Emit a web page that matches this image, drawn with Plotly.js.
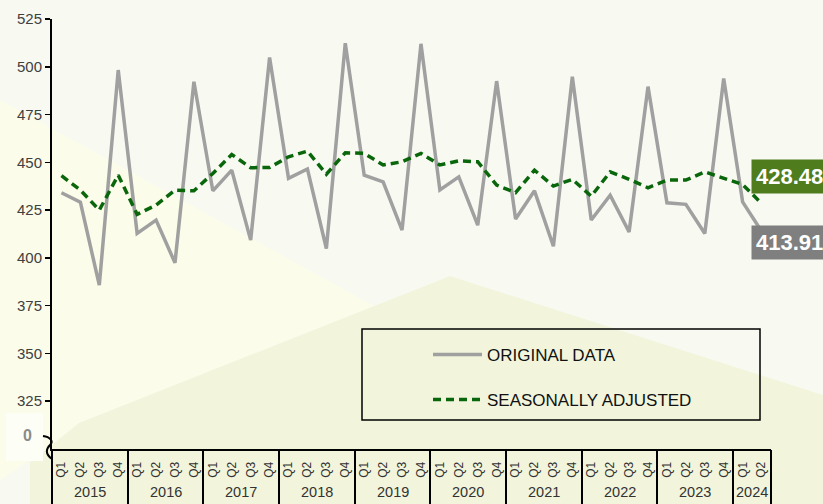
<!DOCTYPE html>
<html><head><meta charset="utf-8">
<script src="https://cdn.plot.ly/plotly-3.0.1.min.js"></script>
<style>html,body{margin:0;padding:0;background:#f8faf2}#chart{width:823px;height:504px}</style>
</head><body><div id="chart"></div>
<script>
// ---- data ----
const yearLabels = ['2015','2016','2017','2018','2019','2020','2021','2022','2023','2024'];
const quartersPerYear = [4,4,4,4,4,4,4,4,4,2];
const quarterLabels = [
  'Q1','Q2','Q3','Q4','Q1','Q2','Q3','Q4','Q1','Q2','Q3','Q4',
  'Q1','Q2','Q3','Q4','Q1','Q2','Q3','Q4','Q1','Q2','Q3','Q4',
  'Q1','Q2','Q3','Q4','Q1','Q2','Q3','Q4','Q1','Q2','Q3','Q4',
  'Q1','Q2'
];
const originalData = [
  434.1,429.2,385.7,498.3,
  412.8,419.8,397.4,492.2,
  435.1,445.9,409.3,504.9,
  441.6,446.5,404.9,512.3,
  443.3,439.8,414.5,512.0,
  435.5,442.4,417.1,492.5,
  420.3,435.1,406.1,494.8,
  419.8,432.8,413.6,489.6,
  428.8,428.0,412.8,493.9,
  429.3,413.91
];
const seasonallyAdjusted = [
  443.0,435.5,425.0,443.3,
  422.8,427.6,435.5,435.1,
  444.2,454.1,447.2,447.3,
  452.9,455.9,443.8,455.0,
  454.7,448.6,450.3,454.7,
  448.6,450.8,450.3,438.1,
  434.1,445.9,437.6,441.1,
  432.3,445.0,441.1,436.7,
  440.7,440.7,445.0,441.6,
  438.4,428.48
];
const yTickValues = [325,350,375,400,425,450,475,500,525];
const seriesNames = ['ORIGINAL DATA','SEASONALLY ADJUSTED'];

// ---- derived ----
const xIndex = quarterLabels.map((_, i) => i);
const boundaries = [-0.5];
const yearMids = [];
let acc = 0;
quartersPerYear.forEach(n => { yearMids.push(acc + (n - 1) / 2); acc += n; boundaries.push(acc - 0.5); });

// pixel -> paper helpers for decoration
const L = 52, R = 52, T = 19, B = 55, W = 823, H = 504;
const PW = W - L - R, PH = H - T - B;
const px = x => (x - L) / PW;
const py = y => (H - B - y) / PH;
const poly = pts => 'M' + pts.map(p => px(p[0]) + ',' + py(p[1])).join('L') + 'Z';

const last = originalData.length - 1;

const traces = [
  {x: xIndex, y: originalData, type: 'scatter', mode: 'lines', name: seriesNames[0],
   legend: 'legend', line: {color: '#a0a0a0', width: 3.5}, hoverinfo: 'skip'},
  {x: xIndex, y: seasonallyAdjusted, type: 'scatter', mode: 'lines', name: seriesNames[1],
   legend: 'legend2', line: {color: '#0a660a', width: 3.5, dash: '8px,5px'}, hoverinfo: 'skip'},
  {x: [], y: [], type: 'scatter', mode: 'lines', xaxis: 'x2', showlegend: false, hoverinfo: 'skip'}
];

const annotations = yearLabels.map((yr, i) => ({
  x: yearMids[i], xref: 'x', y: py(492), yref: 'paper', text: yr, showarrow: false,
  xanchor: 'center', yanchor: 'middle', font: {size: 14.5, color: '#333333'}
}));
annotations.push({x: px(27), xref: 'paper', y: py(435), yref: 'paper', text: '<b>0</b>', showarrow: false,
  xanchor: 'center', yanchor: 'middle', font: {size: 16, color: '#8a8a8a'}});
annotations.push({x: last, xref: 'x', y: seasonallyAdjusted[last], yref: 'y',
  text: '<b>' + seasonallyAdjusted[last].toFixed(2) + '</b>', showarrow: false,
  xanchor: 'left', yanchor: 'middle', xshift: -11, yshift: 27,
  bgcolor: '#4f7d1e', borderpad: 4, font: {size: 22, color: '#ffffff'}});
annotations.push({x: last, xref: 'x', y: originalData[last], yref: 'y',
  text: '<b>' + originalData[last].toFixed(2) + '</b>', showarrow: false,
  xanchor: 'left', yanchor: 'middle', xshift: -11, yshift: -11,
  bgcolor: '#7f7f7f', borderpad: 4, font: {size: 22, color: '#ffffff'}});

const shapes = [
  {type: 'path', xref: 'paper', yref: 'paper', layer: 'below', line: {width: 0}, fillcolor: '#fbfce9',
   path: poly([[0,100],[374,306],[79,423],[47,449],[0,480]])},
  {type: 'path', xref: 'paper', yref: 'paper', layer: 'below', line: {width: 0}, fillcolor: '#f2f5dc',
   path: poly([[30,462],[47,449],[79,423],[450,276],[823,395],[823,504],[30,504]])},
  {type: 'rect', xref: 'paper', yref: 'paper', layer: 'below', line: {width: 0}, fillcolor: '#fdfef6',
   x0: px(6), x1: px(43), y0: py(461), y1: py(413)},
  {type: 'path', xref: 'paper', yref: 'paper', layer: 'above', line: {color: '#000', width: 2},
   path: 'M' + px(43) + ',' + py(436) + 'C' + px(50) + ',' + py(437) + ' ' + px(54) + ',' + py(441) + ' ' + px(50) + ',' + py(445) +
         'C' + px(46) + ',' + py(449) + ' ' + px(45) + ',' + py(454) + ' ' + px(52) + ',' + py(459)},
  {type: 'rect', xref: 'paper', yref: 'paper', layer: 'above', line: {color: '#000', width: 1.5},
   x0: px(362), x1: px(760), y0: py(420), y1: py(329)}
];

const legendBase = {xanchor: 'left', yanchor: 'top', bgcolor: 'rgba(0,0,0,0)', borderwidth: 0,
  font: {size: 17, color: '#111111'}, itemwidth: 49};

const layout = {
  width: W, height: H,
  margin: {l: L, r: R, t: T, b: B, pad: 0},
  paper_bgcolor: '#f8faf2', plot_bgcolor: 'rgba(0,0,0,0)',
  font: {family: 'Liberation Sans, Arial, sans-serif', size: 14, color: '#404040'},
  showlegend: true,
  xaxis: {range: [-0.5, 37.5], tickmode: 'array', tickvals: xIndex, ticktext: quarterLabels,
          tickangle: -90, tickfont: {size: 12, color: '#333333'}, ticks: '',
          showline: true, linecolor: '#000', linewidth: 2, showgrid: false, zeroline: false,
          ticklabelstandoff: 6, fixedrange: true},
  xaxis2: {overlaying: 'x', anchor: 'y', side: 'bottom', range: [-0.5, 37.5], tickmode: 'array',
           tickvals: boundaries, ticks: 'outside', ticklen: 55, tickwidth: 2, tickcolor: '#000',
           showticklabels: false, showgrid: false, zeroline: false, showline: false},
  yaxis: {range: [300, 525], tickmode: 'array', tickvals: yTickValues, ticks: 'outside', ticklen: 5,
          tickwidth: 1.5, tickcolor: '#000', showline: true, linecolor: '#000', linewidth: 2,
          showgrid: false, zeroline: false, tickfont: {size: 15, color: '#404040'}, fixedrange: true},
  legend: Object.assign({x: px(428), y: py(337)}, legendBase),
  legend2: Object.assign({x: px(428), y: py(382)}, legendBase),
  annotations: annotations,
  shapes: shapes
};

Plotly.newPlot('chart', traces, layout, {staticPlot: true, displayModeBar: false});
</script>
</body></html>
